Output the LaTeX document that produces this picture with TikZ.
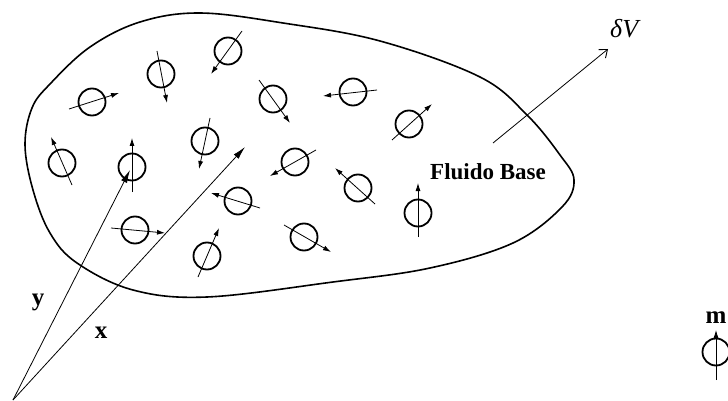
\documentclass[tikz,border=0pt]{standalone}
\usepackage{fontspec}
\setmainfont{Liberation Serif}
\usetikzlibrary{arrows.meta}
\begin{document}
\begin{tikzpicture}[x=1pt,y=-1pt,
  dip/.style={circle,draw,line width=1.8pt,minimum size=27pt,inner sep=0pt},
  sm/.style={line width=0.8pt,-{Latex[length=8pt,width=5pt]}},
  big/.style={line width=0.8pt,-{Latex[length=13pt,width=6.5pt]}},
  open/.style={line width=0.8pt,-{Straight Barb[length=7pt,width=11pt,line width=0.9pt]}},
  lab/.style={font=\fontsize{25}{27}\selectfont\bfseries,inner sep=0pt,anchor=base}]
\useasboundingbox (0,0) rectangle (728,401);
% blob
\draw[line width=1.6pt] plot[smooth cycle,tension=0.6] coordinates {
 (25,145) (32,108) (50,84) (90,47) (140,22) (200,13) (283,23) (380,41)
 (480,77) (527,115) (560,155) (574,180) (562,207) (513,243) (430,268)
 (333,282) (207,297) (133,290) (77,263) (50,233) (33,190)};
% dipoles: index/cx/cy/tail x/tail y/tip x/tip y
\foreach \i/\cx/\cy/\tx/\ty/\hx/\hy in {
 1/92/102/69/109/119/93,
 2/161/74/157/51/167/103,
 3/228/51/242/31/211/74,
 4/273/99/259/80/290/123,
 5/62/163/72/185/51/137,
 6/132/167/132/192/132/138,
 7/205/141/210/118/199/169,
 8/295/162/316/150/270/176,
 9/353/92/377/90/323/96,
 10/409/124/392/140/432/104,
 11/358/188/375/204/335/168,
 12/418/213/418/237/418/183,
 13/238/201/260/208/211/193,
 14/135/230/111/228/165/233,
 15/207/256/198/277/219/228,
 16/304/237/284/225/331/252,
 17/716/352/716/380/716/330}{
  \node[dip] (c\i) at (\cx,\cy) {};
  \coordinate (t\i) at (\tx,\ty);
  \coordinate (h\i) at (\hx,\hy);
  \draw[sm] (t\i) -- (h\i);
}
\node[lab] (m) at (716,323) {m};
% position vectors
\coordinate (O) at (13,400);
\coordinate (ytip) at (130,170);
\coordinate (xtip) at (245,147);
\draw[big] (O) -- (ytip);
\draw[big] (O) -- (xtip);
\node[lab] (ylab) at (38,305) {y};
\node[lab] (xlab) at (101,338) {x};
% region label
\node[font=\fontsize{23}{25}\selectfont\bfseries,inner sep=0pt,anchor=base west] (fb) at (430,179) {Fluido Base};
% delta V
\coordinate (dvt) at (493,143);
\coordinate (dvh) at (608,49);
\draw[open] (dvt) -- (dvh);
\node[font=\fontsize{26}{28}\selectfont\itshape,inner sep=0pt,anchor=base west] (dv) at (610,38) {δV};
\end{tikzpicture}
\end{document}
